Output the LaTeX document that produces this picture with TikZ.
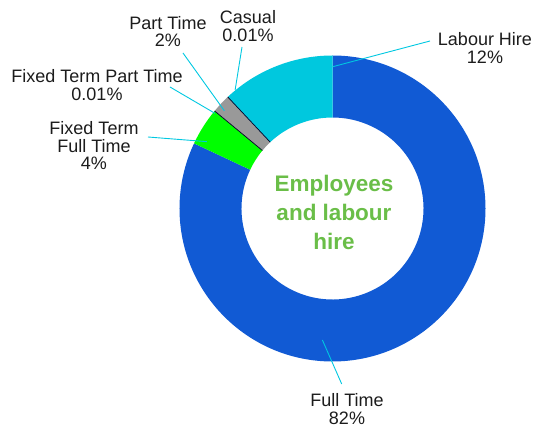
\documentclass[tikz,border=0pt]{standalone}
\usepackage{fontspec}
\setmainfont{Liberation Sans}
\usetikzlibrary{calc}

\definecolor{ftblue}{RGB}{17,90,212}
\definecolor{lhcyan}{RGB}{0,200,222}
\definecolor{ftgreen}{RGB}{0,255,0}
\definecolor{ptgray}{RGB}{153,153,153}
\definecolor{leadcyan}{RGB}{0,200,225}
\definecolor{titlegreen}{RGB}{106,190,72}
\definecolor{labelink}{RGB}{28,28,28}

\begin{document}
\begin{tikzpicture}[x=1pt, y=1pt,
    lbl/.style={align=center, inner sep=0pt, text=labelink,
                font=\fontsize{18}{17.5}\selectfont},
    leader/.style={leadcyan, line width=0.9pt},
    seam/.style={black!85!blue, line width=0.7pt}]
    %---- parameters you can tweak
    \def\Ro{153}  % outer radius of the ring
    \def\Ri{91}   % inner radius of the ring

    \useasboundingbox (-332.5,-221.5) rectangle (202.5,208.5);

    %---- slices (start angle / end angle / colour), clockwise from the top
    \foreach \a/\b/\c in {90/-205.2/ftblue, 154.8/140.4/ftgreen,
                          140.4/133.2/ptgray, 133.2/90/lhcyan}
      \fill[\c] (\a:\Ro) arc[start angle=\a, end angle=\b, radius=\Ro]
        -- (\b:\Ri) arc[start angle=\b, end angle=\a, radius=\Ri] -- cycle;

    %---- the two 0.01% slices, only a seam each
    \draw[seam] (140.4:\Ri) -- (140.4:\Ro);
    \draw[seam] (133.2:\Ri) -- (133.2:\Ro);

    %---- centre title
    \node[align=center, text=titlegreen,
          font=\fontsize{22.5}{29}\selectfont\bfseries] (title) at (1.5,-4.2)
      {Employees\\and labour\\hire};

    %---- labels
    \node[lbl] (labour)  at (152.5,160.5)  {Labour Hire\\12\%};
    \node[lbl] (full)    at (14.5,-200.5)  {Full Time\\82\%};
    \node[lbl] (part)    at (-164.5,177)   {Part Time\\2\%};
    \node[lbl] (casual)  at (-84.5,182.5)  {Casual\\0.01\%};
    \node[lbl] (ftpt)    at (-235.5,123.5) {Fixed Term Part Time\\0.01\%};
    \node[lbl] (ftft)    at (-238.5,62.8)  {Fixed Term\\Full Time\\4\%};

    %---- leader ends
    \coordinate (labourA) at (97.5,167.5);   \coordinate (labourB) at (89.9:141.8);
    \coordinate (fullA)   at (9.2,-175.5);   \coordinate (fullB)   at (-94.4:131.9);
    \coordinate (partA)   at (-149.5,155.5); \coordinate (partB)   at (137.9:145.8);
    \coordinate (casualA) at (-90.5,161.5);  \coordinate (casualB) at (129.4:153.4);
    \coordinate (ftptA)   at (-162.5,121.5); \coordinate (ftptB)   at (141.0:151.2);
    \coordinate (ftftA)   at (-184.5,71.5);  \coordinate (ftftB)   at (152.0:142.4);

    \foreach \n in {labour,full,part,casual,ftpt,ftft}
      \draw[leader] (\n A) -- (\n B);
\end{tikzpicture}
\end{document}
